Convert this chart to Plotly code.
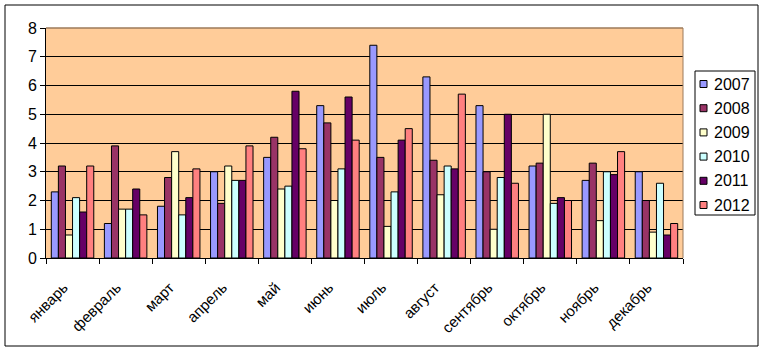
import plotly.graph_objects as go

months = ["январь", "февраль", "март", "апрель", "май", "июнь", "июль",
          "август", "сентябрь", "октябрь", "ноябрь", "декабрь"]
years = ["2007", "2008", "2009", "2010", "2011", "2012"]

v2007 = [2.3, 1.2, 1.8, 3.0, 3.5, 5.3, 7.4, 6.3, 5.3, 3.2, 2.7, 3.0]
v2008 = [3.2, 3.9, 2.8, 1.9, 4.2, 4.7, 3.5, 3.4, 3.0, 3.3, 3.3, 2.0]
v2009 = [0.8, 1.7, 3.7, 3.2, 2.4, 2.0, 1.1, 2.2, 1.0, 5.0, 1.3, 0.9]
v2010 = [2.1, 1.7, 1.5, 2.7, 2.5, 3.1, 2.3, 3.2, 2.8, 1.9, 3.0, 2.6]
v2011 = [1.6, 2.4, 2.1, 2.7, 5.8, 5.6, 4.1, 3.1, 5.0, 2.1, 2.9, 0.8]
v2012 = [3.2, 1.5, 3.1, 3.9, 3.8, 4.1, 4.5, 5.7, 2.6, 2.0, 3.7, 1.2]

series = [v2007, v2008, v2009, v2010, v2011, v2012]
colors = ["#9999FF", "#993366", "#FFFFCC", "#CCFFFF", "#660066", "#FF8080"]

# plot-area pixel geometry (for paper-coordinate conversion of decorations)
L, R, T, B = 46, 683, 28, 258
W, H = R - L, B - T
def px(x):
    return (x - L) / W
def py(y):
    return (B - y) / H

fig = go.Figure()
for name, vals, col in zip(years, series, colors):
    fig.add_trace(go.Bar(x=months, y=vals, name=name, marker_color=col,
                         marker_line=dict(color="black", width=1)))

fig.update_layout(
    width=764, height=351,
    margin=dict(l=L, r=764 - R, t=T, b=351 - B),
    barmode="group", bargap=0.2, bargroupgap=0,
    plot_bgcolor="#FFCC99", paper_bgcolor="white",
    font=dict(family="Liberation Sans, Arial", size=15, color="black"),
    showlegend=False,
)
fig.update_xaxes(tickson="boundaries", ticks="outside", ticklen=5, tickcolor="black",
                 showline=True, linecolor="black", linewidth=1, tickangle=-45,
                 tickfont=dict(size=15), showgrid=False,
                 ticklabelstandoff=14, ticklabelshift=-9)
fig.update_yaxes(range=[0, 8], dtick=1, ticks="outside", ticklen=5, tickcolor="black",
                 showline=True, linecolor="black", linewidth=1, showgrid=True,
                 gridcolor="black", gridwidth=1, zeroline=False,
                 tickfont=dict(size=16))
# plot area border (grey) on top and right edges
fig.add_shape(type="line", xref="paper", yref="paper", x0=0, x1=1, y0=1, y1=1,
              line=dict(color="#9C7A5A", width=1.5), layer="above")
fig.add_shape(type="line", xref="paper", yref="paper", x0=1, x1=1, y0=0, y1=1,
              line=dict(color="#9C7A5A", width=1), layer="above")
# outer chart frame
fig.add_shape(type="rect", xref="paper", yref="paper",
              x0=px(5), x1=px(758), y0=py(346), y1=py(5),
              line=dict(color="black", width=1))
# legend box (drawn manually to match the Excel-style compact legend)
fig.add_shape(type="rect", xref="paper", yref="paper",
              x0=px(695), x1=px(755), y0=py(215), y1=py(71),
              line=dict(color="black", width=1), fillcolor="white")
row0, step = 84, 24.2
for i, (name, col) in enumerate(zip(years, colors)):
    cy = row0 + i * step
    fig.add_shape(type="rect", xref="paper", yref="paper",
                  x0=px(700), x1=px(707), y0=py(cy + 3.5), y1=py(cy - 3.5),
                  line=dict(color="black", width=1), fillcolor=col)
    fig.add_annotation(xref="paper", yref="paper", x=px(712), y=py(cy),
                       text=name, showarrow=False, xanchor="left", yanchor="middle",
                       font=dict(size=16, color="black"))
fig.write_html("out.html")
